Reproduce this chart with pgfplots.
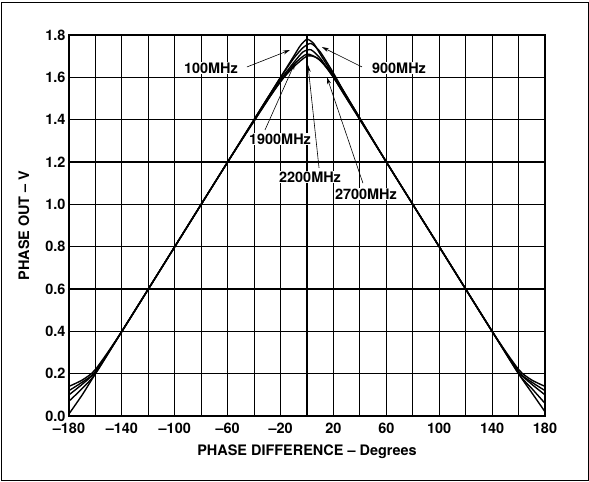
\documentclass[border=0pt]{standalone}
\usepackage{pgfplots}
\pgfplotsset{compat=1.18}
\usetikzlibrary{arrows.meta}
\usepackage{fontspec}
\setmainfont{TeX Gyre Heros}
\begin{document}
\begin{tikzpicture}
\useasboundingbox (0,0) rectangle (589bp,482bp);
\draw[line width=1pt] (1bp,2bp) rectangle (588bp,479bp);
\begin{axis}[
  at={(69bp,66bp)}, anchor=south west,
  width=476bp, height=381bp, scale only axis,
  xmin=-180, xmax=180, ymin=0, ymax=1.8,
  xtick={-180,-140,-100,-60,-20,20,60,100,140,180},
  xticklabels={\textendash180,\textendash140,\textendash100,\textendash60,\textendash20,20,60,100,140,180},
  minor xtick={-160,-120,-80,-40,0,40,80,120,160},
  ytick={0,0.2,0.4,0.6,0.8,1.0,1.2,1.4,1.6,1.8},
  yticklabels={0.0,0.2,0.4,0.6,0.8,1.0,1.2,1.4,1.6,1.8},
  grid=both,
  major grid style={black, line width=1.1pt},
  minor grid style={black, line width=1.1pt},
  major tick length=0pt, minor tick length=0pt,
  axis line style={line width=1.5pt},
  tick label style={font=\fontsize{14.5}{17}\selectfont\bfseries},
  xticklabel style={yshift=-3.5pt},
  label style={font=\fontsize{14.5}{17}\selectfont\bfseries},
  xlabel={PHASE DIFFERENCE \textendash{} Degrees},
  ylabel={PHASE OUT \textendash{} V},
  xlabel style={at={(axis description cs:0.5,-0.094)}, anchor=center},
  ylabel style={at={(axis description cs:-0.095,0.5)}, anchor=center, rotate=0},
  clip=true,
]
% 100 MHz
\addplot[black, line width=1.4pt, smooth, tension=0.4] coordinates {
(-180,0.01) (-170,0.10) (-160,0.20) (-140,0.40) (-100,0.80) (-60,1.20) (-30,1.50) (-20,1.60) (-10,1.70) (-5,1.75) (0,1.78) (5,1.76) (10,1.71) (20,1.61) (30,1.51) (60,1.20) (100,0.80) (140,0.40) (160,0.20) (170,0.11) (180,0.02)};
% 900 MHz
\addplot[black, line width=1.4pt, smooth, tension=0.4] coordinates {
(-180,0.07) (-170,0.13) (-160,0.20) (-140,0.40) (-100,0.80) (-60,1.20) (-30,1.50) (-20,1.60) (-10,1.69) (-3,1.74) (3,1.76) (10,1.72) (20,1.62) (30,1.51) (60,1.20) (100,0.80) (140,0.40) (160,0.20) (170,0.13) (180,0.06)};
% 1900 MHz
\addplot[black, line width=1.4pt, smooth, tension=0.4] coordinates {
(-180,0.10) (-170,0.15) (-160,0.21) (-140,0.40) (-100,0.80) (-60,1.20) (-30,1.50) (-20,1.59) (-10,1.67) (-3,1.72) (3,1.73) (10,1.69) (20,1.60) (30,1.50) (60,1.20) (100,0.80) (140,0.40) (160,0.21) (170,0.15) (180,0.10)};
% 2200 MHz
\addplot[black, line width=1.4pt, smooth, tension=0.4] coordinates {
(-180,0.12) (-170,0.16) (-160,0.21) (-140,0.40) (-100,0.80) (-60,1.20) (-30,1.49) (-20,1.58) (-10,1.66) (0,1.71) (10,1.68) (20,1.60) (30,1.50) (60,1.20) (100,0.80) (140,0.40) (160,0.21) (170,0.16) (180,0.12)};
% 2700 MHz
\addplot[black, line width=1.4pt, smooth, tension=0.4] coordinates {
(-180,0.14) (-170,0.17) (-160,0.22) (-140,0.40) (-100,0.80) (-60,1.20) (-30,1.49) (-20,1.58) (-10,1.65) (0,1.70) (8,1.69) (20,1.61) (30,1.51) (60,1.20) (100,0.80) (140,0.40) (160,0.22) (170,0.17) (180,0.14)};
% labels and arrows
\begin{scope}[every node/.style={fill=white, inner sep=1pt, font=\fontsize{14.5}{17}\selectfont\bfseries}]
\draw[line width=0.6pt, -{Stealth[length=7pt,width=4pt]}] (axis cs:-45.4,1.649) -- (axis cs:-12.9,1.729);
\draw[line width=0.6pt, -{Stealth[length=7pt,width=4pt]}] (axis cs:41.6,1.649) -- (axis cs:11.3,1.743);
\draw[line width=0.6pt, -{Stealth[length=7pt,width=4pt]}] (axis cs:-31.8,1.351) -- (axis cs:-9.1,1.668);
\draw[line width=0.6pt, -{Stealth[length=7pt,width=4pt]}] (axis cs:9.1,1.172) -- (axis cs:0.75,1.658);
\draw[line width=0.6pt, -{Stealth[length=7pt,width=4pt]}] (axis cs:42.3,1.10) -- (axis cs:15.1,1.60);
\node at (axis cs:-72.6,1.644) {100MHz};
\node at (axis cs:69.6,1.644) {900MHz};
\node at (axis cs:-20.4,1.309) {1900MHz};
\node at (axis cs:2.3,1.129) {2200MHz};
\node at (axis cs:44.6,1.049) {2700MHz};
\end{scope}
\end{axis}
\end{tikzpicture}
\end{document}
